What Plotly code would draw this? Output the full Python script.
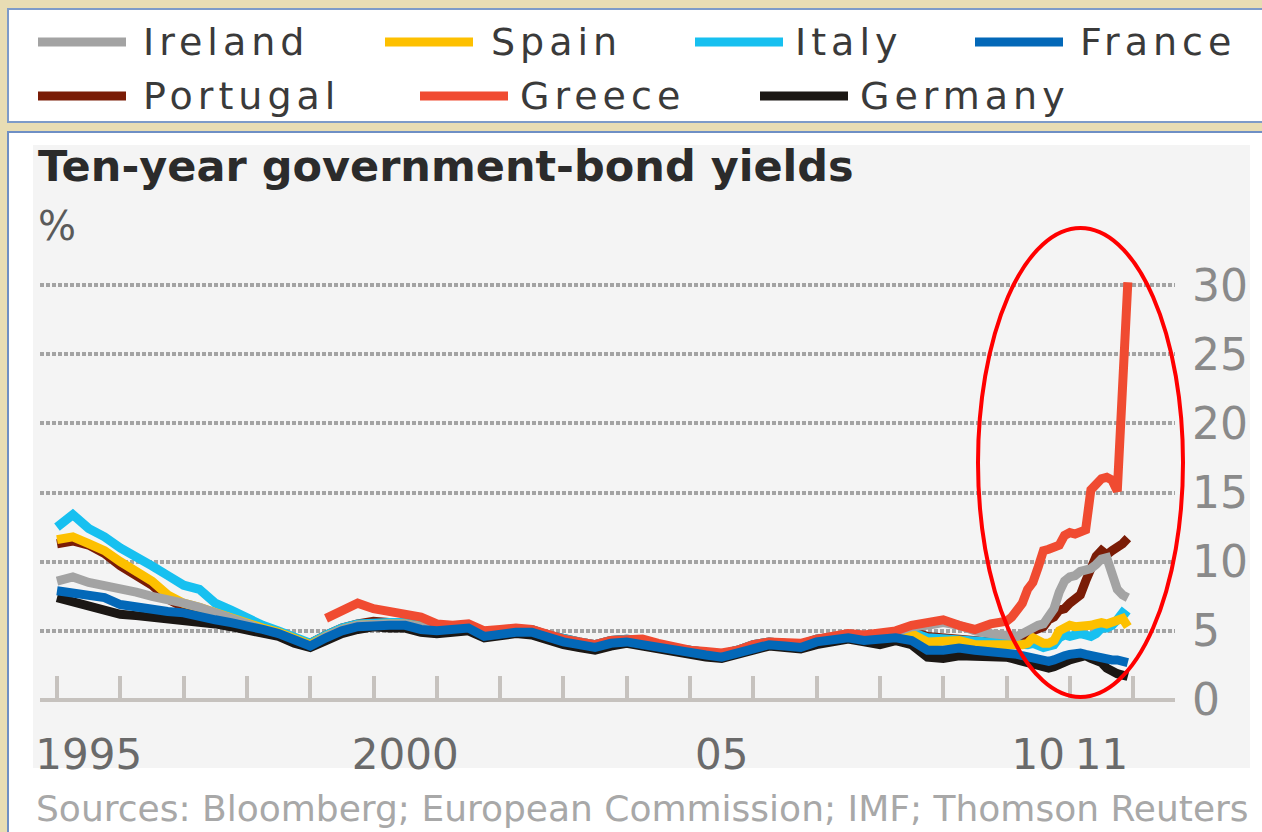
import plotly.graph_objects as go

# ---- data -----------------------------------------------------------------
# quarterly observations 1995Q1-2009Q4, then monthly Jan 2010 - Dec 2011
quarters = [1995 + i * 0.25 for i in range(60)]
months = [2010 + i / 12 for i in range(24)]
dates = quarters + months

ireland = [8.6, 8.9, 8.5, 8.3, 8.0, 7.8, 7.5, 7.3, 7.0, 6.7, 6.3, 5.9,
           5.4, 5.1, 4.8, 4.3, 3.9, 4.6, 5.1, 5.4, 5.5, 5.5, 5.5, 5.3,
           5.1, 5.2, 5.3, 4.8, 4.9, 5.0, 5.0, 4.6, 4.2, 4.0, 3.9, 4.2,
           4.3, 4.1, 3.9, 3.6, 3.5, 3.3, 3.2, 3.4, 3.8, 4.0, 4.0, 3.9,
           4.3, 4.5, 4.7, 4.6, 4.6, 4.9, 5.3, 5.4, 5.6, 5.4, 5.0, 4.8,
           4.7, 4.7, 4.6, 4.8, 5.0, 5.3, 5.4, 5.5, 6.2, 6.6, 7.8, 8.6,
           8.9, 9.0, 9.3, 9.4, 9.5, 9.8, 10.2, 10.3, 9.0, 8.0, 7.6, 7.4]

spain = [11.6, 11.8, 11.3, 10.8, 10.0, 9.3, 8.6, 7.6, 7.0, 6.7, 6.3, 6.0,
         5.6, 5.2, 4.9, 4.4, 4.0, 4.6, 5.1, 5.4, 5.5, 5.5, 5.5, 5.3,
         5.1, 5.2, 5.3, 4.8, 4.9, 5.0, 5.0, 4.6, 4.3, 4.1, 3.9, 4.2,
         4.3, 4.2, 3.9, 3.6, 3.5, 3.35, 3.2, 3.5, 3.9, 4.1, 4.0, 3.9,
         4.3, 4.4, 4.6, 4.5, 4.5, 4.7, 4.8, 4.2, 4.2, 4.3, 4.0, 4.0,
         4.0, 4.0, 3.9, 4.0, 4.1, 4.5, 4.3, 4.1, 4.1, 4.3, 5.0, 5.3,
         5.4, 5.3, 5.3, 5.3, 5.4, 5.5, 5.6, 5.5, 5.6, 5.8, 5.9, 5.3]

italy = [12.5, 13.4, 12.4, 11.8, 11.0, 10.4, 9.7, 9.0, 8.3, 8.0, 7.0, 6.5,
         5.9, 5.4, 5.0, 4.5, 4.1, 4.7, 5.2, 5.5, 5.6, 5.6, 5.6, 5.4,
         5.2, 5.3, 5.4, 4.9, 5.0, 5.1, 5.1, 4.7, 4.4, 4.2, 4.0, 4.3,
         4.4, 4.3, 4.0, 3.7, 3.6, 3.5, 3.3, 3.6, 4.0, 4.2, 4.1, 4.0,
         4.4, 4.5, 4.7, 4.6, 4.7, 4.9, 4.9, 4.5, 4.4, 4.4, 4.2, 4.1,
         4.1, 4.0, 4.0, 4.0, 4.0, 4.1, 4.0, 3.8, 3.9, 4.0, 4.5, 4.7,
         4.6, 4.7, 4.8, 4.7, 4.6, 4.8, 5.2, 5.2, 5.4, 5.8, 6.3, 6.0]

france = [7.9, 7.7, 7.5, 7.4, 6.9, 6.7, 6.6, 6.4, 6.3, 6.0, 5.8, 5.6,
          5.4, 5.1, 4.8, 4.3, 3.9, 4.5, 5.0, 5.3, 5.4, 5.4, 5.4, 5.1,
          5.0, 5.1, 5.2, 4.6, 4.8, 4.9, 4.9, 4.5, 4.2, 4.0, 3.8, 4.1,
          4.2, 4.0, 3.8, 3.5, 3.4, 3.25, 3.1, 3.4, 3.8, 4.0, 3.9, 3.8,
          4.2, 4.3, 4.5, 4.3, 4.4, 4.5, 4.3, 3.6, 3.6, 3.75, 3.6, 3.5,
          3.5, 3.4, 3.3, 3.2, 3.1, 3.0, 3.0, 2.9, 2.8, 2.9, 3.1, 3.2,
          3.3, 3.4, 3.4, 3.3, 3.2, 3.1, 3.1, 3.0, 2.9, 2.9, 2.8, 2.7]

portugal = [11.3, 11.5, 11.2, 10.6, 9.7, 9.0, 8.3, 7.3, 6.7, 6.5, 6.2, 5.8,
            5.5, 5.2, 4.9, 4.4, 4.1, 4.7, 5.2, 5.5, 5.7, 5.6, 5.6, 5.4,
            5.2, 5.3, 5.4, 4.9, 5.0, 5.1, 5.1, 4.7, 4.4, 4.2, 4.0, 4.3,
            4.4, 4.3, 4.0, 3.7, 3.6, 3.4, 3.3, 3.6, 4.0, 4.2, 4.1, 4.0,
            4.4, 4.5, 4.7, 4.6, 4.6, 4.9, 5.0, 4.6, 4.5, 4.5, 4.3, 4.2,
            4.4, 4.4, 4.3, 4.6, 4.7, 5.0, 5.2, 5.3, 5.8, 6.0, 6.5, 6.6,
            7.0, 7.3, 7.6, 8.6, 9.4, 10.4, 10.8, 10.5, 10.8, 11.0, 11.3, 11.7]

greece = [None] * 17 + [
    5.9, 6.5, 7.0, 6.6, 6.4, 6.2, 6.0,
    5.5, 5.4, 5.5, 5.0, 5.1, 5.2, 5.1, 4.7, 4.4, 4.2, 4.0, 4.3,
    4.4, 4.4, 4.1, 3.8, 3.6, 3.5, 3.4, 3.6, 4.0, 4.2, 4.2, 4.1,
    4.4, 4.6, 4.8, 4.7, 4.8, 5.0, 5.4, 5.6, 5.8, 5.4, 5.1, 5.5,
    5.7, 6.0, 6.6, 7.0, 8.0, 8.5, 9.6, 10.8, 10.9, 11.0, 11.2, 11.9,
    12.1, 12.0, 12.2, 12.3, 15.2, 15.6, 16.0, 16.1, 15.9, 15.1, 22.5, 30.2]

germany = [7.4, 7.1, 6.9, 6.6, 6.2, 6.1, 6.0, 5.8, 5.8, 5.6, 5.5, 5.3,
           5.1, 4.9, 4.6, 4.1, 3.8, 4.3, 4.8, 5.1, 5.3, 5.2, 5.2, 4.9,
           4.8, 4.9, 5.0, 4.5, 4.7, 4.8, 4.7, 4.3, 4.0, 3.8, 3.6, 3.9,
           4.1, 3.9, 3.7, 3.4, 3.3, 3.1, 3.0, 3.3, 3.6, 3.9, 3.8, 3.7,
           4.0, 4.2, 4.4, 4.2, 4.0, 4.3, 4.0, 3.1, 3.0, 3.2, 3.2, 3.1,
           3.1, 3.0, 2.9, 2.8, 2.7, 2.6, 2.5, 2.4, 2.3, 2.4, 2.6, 2.7,
           2.9, 3.0, 3.1, 3.2, 3.0, 2.9, 2.7, 2.3, 2.0, 1.9, 1.8, 1.7]

colors = {
    "Ireland": "#a3a3a3",
    "Spain": "#fdc000",
    "Italy": "#17c0f0",
    "France": "#0368b8",
    "Portugal": "#7a1c06",
    "Greece": "#f04b31",
    "Germany": "#1b1714",
}
series = {
    "Ireland": ireland, "Spain": spain, "Italy": italy, "France": france,
    "Portugal": portugal, "Greece": greece, "Germany": germany,
}
draw_order = ["Portugal", "Italy", "Spain", "Ireland", "Greece", "Germany", "France"]

y_ticks = [0, 5, 10, 15, 20, 25, 30]
year_bounds = list(range(1995, 2013))
label_years = [1995.5, 2000.5, 2005.5, 2010.5, 2011.5]
label_text = ["1995", "2000", "05", "10", "11"]

# ---- page geometry (pixels) -----------------------------------------------
W, H = 1262, 832
def px(x):
    return x / W
def py(y):
    return 1 - y / H

FONT = "DejaVu Sans"

fig = go.Figure()
for name in draw_order:
    fig.add_trace(go.Scatter(
        x=dates, y=series[name], mode="lines", name=name,
        line=dict(color=colors[name], width=9),
        connectgaps=False, hoverinfo="skip", showlegend=False,
    ))

shapes = [
    # legend panel
    dict(type="rect", xref="paper", yref="paper", layer="below",
         x0=px(8), x1=px(1275), y0=py(122), y1=py(9),
         fillcolor="#ffffff", line=dict(color="#7d9bc9", width=2)),
    # chart panel
    dict(type="rect", xref="paper", yref="paper", layer="below",
         x0=px(8), x1=px(1275), y0=py(845), y1=py(132),
         fillcolor="#ffffff", line=dict(color="#6f8fc4", width=2)),
    # grey chart area
    dict(type="rect", xref="paper", yref="paper", layer="below",
         x0=px(33), x1=px(1250), y0=py(768), y1=py(145),
         fillcolor="#f4f4f4", line=dict(width=0)),
    # red highlight ellipse
    dict(type="circle", xref="paper", yref="paper", layer="above",
         x0=px(978), x1=px(1183), y0=py(697), y1=py(228),
         line=dict(color="#ff0000", width=4)),
]

annotations = [
    dict(text="<b>Ten-year government-bond yields</b>", xref="paper", yref="paper",
         x=px(36), y=py(166), xanchor="left", yanchor="middle", showarrow=False,
         font=dict(family=FONT, size=43, color="#2b2b2b")),
    dict(text="%", xref="paper", yref="paper",
         x=px(36), y=py(226), xanchor="left", yanchor="middle", showarrow=False,
         font=dict(family=FONT, size=40, color="#5a5a5a")),
    dict(text="Sources: Bloomberg; European Commission; IMF; Thomson Reuters",
         xref="paper", yref="paper", x=px(34), y=py(808), xanchor="left",
         yanchor="middle", showarrow=False,
         font=dict(family=FONT, size=36, color="#a8a8a8")),
]

# legend laid out in two rows
legend_rows = [
    [("Ireland", 38, 145), ("Spain", 385, 493), ("Italy", 695, 797), ("France", 975, 1082)],
    [("Portugal", 38, 145), ("Greece", 420, 522), ("Germany", 760, 862)],
]
for row_y, row in zip([42, 96], legend_rows):
    for name, lx, tx in row:
        shapes.append(dict(type="line", xref="paper", yref="paper",
                           x0=px(lx), x1=px(lx + 88), y0=py(row_y), y1=py(row_y),
                           line=dict(color=colors[name], width=9)))
        annotations.append(dict(
            text=f'<span style="letter-spacing:5px">{name}</span>',
            xref="paper", yref="paper", x=px(tx - 4), y=py(row_y),
            xanchor="left", yanchor="middle", showarrow=False,
            font=dict(family=FONT, size=38, color="#3a3a3a")))

x_lo = 1995 + (40 - 57) / 63.3
x_hi = 1995 + (1175 - 57) / 63.3

fig.update_layout(
    width=W, height=H, autosize=False,
    margin=dict(l=0, r=0, t=0, b=0, pad=0),
    paper_bgcolor="#e8ddb4", plot_bgcolor="rgba(0,0,0,0)",
    showlegend=False,
    shapes=shapes, annotations=annotations,
    xaxis=dict(
        domain=[px(40), px(1175)], range=[x_lo, x_hi], automargin=False,
        tickvals=label_years, ticktext=label_text, ticks="",
        showgrid=False, zeroline=False, showline=False,
        tickfont=dict(family=FONT, size=42, color="#6a6a6a"),
        ticklabelstandoff=26,
        minor=dict(tickvals=year_bounds, ticks="inside", ticklen=24,
                   tickwidth=4, tickcolor="#c6c2be", showgrid=False),
        fixedrange=True,
    ),
    yaxis=dict(
        domain=[py(700), py(700 - 32 * 13.83)], range=[0, 32], automargin=False,
        side="right", tickvals=y_ticks, ticks="",
        showgrid=True, gridcolor="#a3a3a3", gridwidth=4, griddash="4px,2px",
        zeroline=True, zerolinecolor="#c6c2be", zerolinewidth=4,
        showline=False, ticklabelstandoff=16,
        tickfont=dict(family=FONT, size=44, color="#8a8a8a"),
        fixedrange=True,
    ),
)

fig.write_html("out.html")
